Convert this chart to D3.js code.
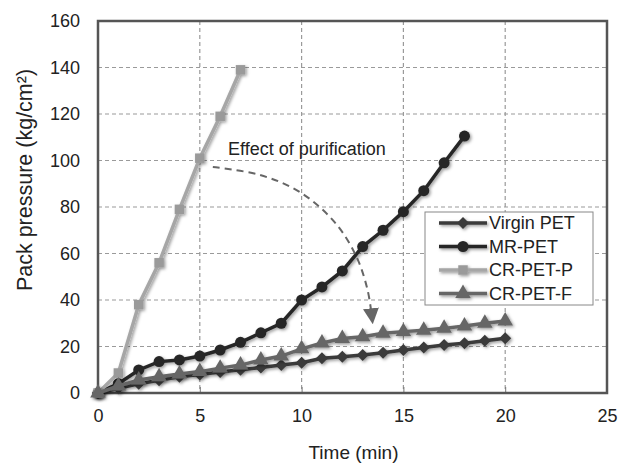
<!DOCTYPE html>
<html>
<head>
<meta charset="utf-8">
<script src="https://cdn.jsdelivr.net/npm/d3@7"></script>
<style>
  body { margin: 0; background: #fff; }
  text { font-family: "Liberation Sans", Arial, sans-serif; fill: #222; }
</style>
</head>
<body>
<div id="canvas"></div>
<script>
// Canvas size and plot margins.
const WIDTH = 619;
const HEIGHT = 465;
const MARGIN = { top: 21, right: 12, bottom: 72, left: 98 };

// The data.
const virginTime = [0, 1, 2, 3, 4, 5, 6, 7, 8, 9, 10, 11, 12, 13, 14, 15, 16, 17, 18, 19, 20];
const virginPET = [0, 2, 4, 5.5, 7, 8, 9, 10, 11, 12, 13, 14.9, 15.6, 16.3, 17.3, 18.5, 19.6, 20.6, 21.4, 22.5, 23.5];

const mrTime = [0, 1, 2, 3, 4, 5, 6, 7, 8, 9, 10, 11, 12, 13, 14, 15, 16, 17, 18];
const mrPET = [0, 4, 9.9, 13.5, 14.2, 15.9, 18.5, 21.8, 25.9, 30, 40, 45.6, 52.5, 63, 70, 78, 87, 99, 110.5];

const crpTime = [0, 1, 2, 3, 4, 5, 6, 7];
const crPETP = [0, 8.6, 38, 56, 79, 101, 119, 139];

const crfTime = [0, 1, 2, 3, 4, 5, 6, 7, 8, 9, 10, 11, 12, 13, 14, 15, 16, 17, 18, 19, 20];
const crPETF = [0, 3, 5.6, 7, 8.2, 9.2, 10.7, 12, 14.2, 15.9, 19, 21.5, 23.4, 24.2, 25.7, 26.4, 27, 27.8, 28.8, 30, 31];

// Tick values.
const xTicks = [0, 5, 10, 15, 20, 25];
const yTicks = [0, 20, 40, 60, 80, 100, 120, 140, 160];

// Annotation arrow, in data units (time, pressure).
const arrowTime = [5.64, 7.94, 9.9, 11.62, 12.7, 13.24, 13.45];
const arrowValue = [97.2, 93.8, 86.5, 73.5, 58.5, 44.3, 33];

// Series definitions (styling per series). rot rotates the marker (square -> diamond).
const series = [
    { name: "Virgin PET", x: virginTime, y: virginPET, color: "#3a3a3a", fill: "#3a3a3a", symbol: d3.symbolSquare, size: 72, rot: 45 },
    { name: "MR-PET", x: mrTime, y: mrPET, color: "#262626", fill: "#262626", symbol: d3.symbolCircle, size: 95, rot: 0 },
    { name: "CR-PET-P", x: crpTime, y: crPETP, color: "#a6a6a6", fill: "#9a9a9a", symbol: d3.symbolSquare, size: 90, rot: 0 },
    { name: "CR-PET-F", x: crfTime, y: crPETF, color: "#666666", fill: "#666666", symbol: d3.symbolTriangle, size: 105, rot: 0 }
];

const innerW = WIDTH - MARGIN.left - MARGIN.right;
const innerH = HEIGHT - MARGIN.top - MARGIN.bottom;

const svg = d3.select("#canvas")
    .append("svg")
    .attr("width", WIDTH)
    .attr("height", HEIGHT);

// Soft shadow like the original's marker effect.
const defs = svg.append("defs");
defs.append("filter")
    .attr("id", "shadow")
    .attr("x", "-50%").attr("y", "-50%")
    .attr("width", "200%").attr("height", "200%")
    .append("feDropShadow")
    .attr("dx", 1.5).attr("dy", 1.5)
    .attr("stdDeviation", 1.6)
    .attr("flood-color", "#000")
    .attr("flood-opacity", 0.4);

defs.append("marker")
    .attr("id", "arrowhead")
    .attr("viewBox", "0 0 10 10")
    .attr("refX", 5).attr("refY", 5)
    .attr("markerWidth", 16).attr("markerHeight", 16)
    .attr("markerUnits", "userSpaceOnUse")
    .attr("orient", "auto")
    .append("path")
    .attr("d", "M0,0 L10,5 L0,10 Z")
    .attr("fill", "#666");

const g = svg.append("g")
    .attr("transform", `translate(${MARGIN.left},${MARGIN.top})`);

// Scales.
const xScale = d3.scaleLinear().domain([0, 25]).range([0, innerW]);
const yScale = d3.scaleLinear().domain([0, 160]).range([innerH, 0]);

// Grid lines.
g.append("g")
    .selectAll("line")
    .data(xTicks.slice(1, -1))
    .enter()
    .append("line")
    .attr("x1", d => xScale(d)).attr("x2", d => xScale(d))
    .attr("y1", 0).attr("y2", innerH)
    .attr("stroke", "#9a9a9a")
    .attr("stroke-width", 1.2)
    .attr("stroke-dasharray", "4,3");

g.append("g")
    .selectAll("line")
    .data(yTicks.slice(1, -1))
    .enter()
    .append("line")
    .attr("x1", 0).attr("x2", innerW)
    .attr("y1", d => yScale(d)).attr("y2", d => yScale(d))
    .attr("stroke", "#9a9a9a")
    .attr("stroke-width", 1.2)
    .attr("stroke-dasharray", "4,3");

// Axes.
const xAxis = d3.axisBottom(xScale).tickValues(xTicks).tickSizeInner(-6).tickSizeOuter(0).tickPadding(16);
const yAxis = d3.axisLeft(yScale).tickValues(yTicks).tickSize(0).tickPadding(18);

const xg = g.append("g")
    .attr("transform", `translate(0,${innerH})`)
    .call(xAxis);
xg.select(".domain").remove();
xg.selectAll("line").attr("stroke", "#777");
xg.selectAll("text").style("font-size", "18px").attr("fill", "#222");

const yg = g.append("g").call(yAxis);
yg.select(".domain").remove();
yg.selectAll("text").style("font-size", "18px").attr("fill", "#222");

// Plot frame.
g.append("rect")
    .attr("x", 0).attr("y", 0)
    .attr("width", innerW).attr("height", innerH)
    .attr("fill", "none")
    .attr("stroke", "#555")
    .attr("stroke-width", 2.5);

// Axis titles.
svg.append("text")
    .attr("x", MARGIN.left + innerW / 2 + 1)
    .attr("y", 459)
    .attr("text-anchor", "middle")
    .style("font-size", "19px")
    .text("Time (min)");

svg.append("text")
    .attr("transform", `translate(32,${180}) rotate(-90)`)
    .attr("text-anchor", "middle")
    .style("font-size", "21.5px")
    .text("Pack pressure (kg/cm²)");

// Series lines and markers.
const line = d3.line()
    .x(d => xScale(d[0]))
    .y(d => yScale(d[1]));

series.forEach(s => {
    const pts = s.x.map((t, i) => [t, s.y[i]]);
    const sg = g.append("g").attr("filter", "url(#shadow)");
    sg.append("path")
        .datum(pts)
        .attr("d", line)
        .attr("fill", "none")
        .attr("stroke", s.color)
        .attr("stroke-width", 3.5);
    sg.selectAll("path.pt")
        .data(pts)
        .enter()
        .append("path")
        .attr("class", "pt")
        .attr("d", d3.symbol().type(s.symbol).size(s.size))
        .attr("transform", d => `translate(${xScale(d[0])},${yScale(d[1])}) rotate(${s.rot})`)
        .attr("fill", s.fill);
});

// Annotation.
const arrowLine = d3.line()
    .x(d => xScale(d[0]))
    .y(d => yScale(d[1]))
    .curve(d3.curveCatmullRom);

g.append("path")
    .datum(arrowTime.map((t, i) => [t, arrowValue[i]]))
    .attr("d", arrowLine)
    .attr("fill", "none")
    .attr("stroke", "#666")
    .attr("stroke-width", 2)
    .attr("stroke-dasharray", "7,5")
    .attr("marker-end", "url(#arrowhead)");

g.append("text")
    .attr("x", 228 - MARGIN.left)
    .attr("y", 155 - MARGIN.top)
    .style("font-size", "18px")
    .text("Effect of purification");

// Legend.
const legend = svg.append("g").attr("transform", "translate(425,212)");
legend.append("rect")
    .attr("width", 168).attr("height", 93)
    .attr("fill", "#fff")
    .attr("stroke", "#888")
    .attr("stroke-width", 1);

series.forEach((s, i) => {
    const row = legend.append("g").attr("transform", `translate(0,${11 + i * 23.5})`);
    const mg = row.append("g").attr("filter", "url(#shadow)");
    mg.append("line")
        .attr("x1", 14).attr("x2", 62)
        .attr("stroke", s.color)
        .attr("stroke-width", 3.5);
    mg.append("path")
        .attr("d", d3.symbol().type(s.symbol).size(s.size))
        .attr("transform", `translate(38,0) rotate(${s.rot})`)
        .attr("fill", s.fill);
    row.append("text")
        .attr("x", 64)
        .attr("dy", "0.35em")
        .style("font-size", "18px")
        .text(s.name);
});
</script>
</body>
</html>
